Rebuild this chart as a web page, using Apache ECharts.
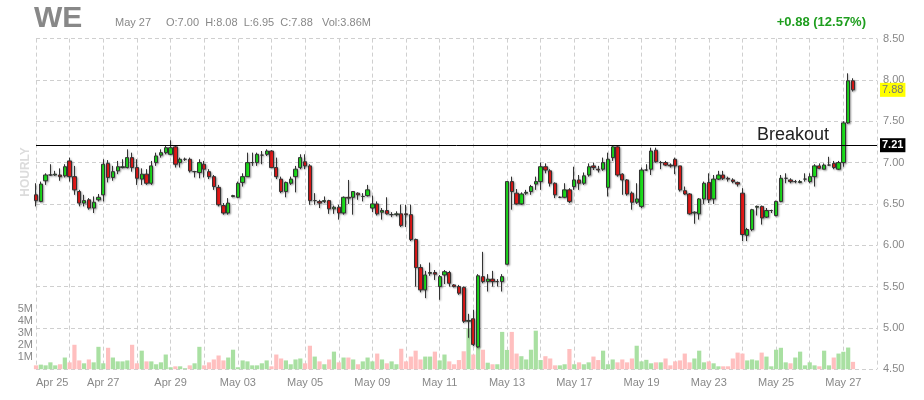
<!DOCTYPE html>
<html><head><meta charset="utf-8">
<script src="https://cdn.jsdelivr.net/npm/echarts@6/dist/echarts.min.js"></script>
<style>html,body{margin:0;padding:0;background:#fff;}#c{width:924px;height:400px;}</style>
</head><body><div id="c"></div>
<script>
const symbol = 'WE';
const intervalName = 'HOURLY';
const days = ['Apr 25','Apr 26','Apr 27','Apr 28','Apr 29','May 02','May 03','May 04','May 05','May 06','May 09','May 10','May 11','May 12','May 13','May 16','May 17','May 18','May 19','May 20','May 23','May 24','May 25','May 26','May 27'];
const hours = ['09:30','10:30','11:30','12:30','13:30','14:30','15:30'];
const opens = [
6.61,6.53,6.78,6.85,6.85,6.85,6.84,7.02,6.83,6.65,
6.51,6.55,6.45,6.55,6.61,6.99,6.82,6.90,6.94,6.94,
7.06,6.94,6.80,6.86,6.75,7.00,7.09,7.12,7.10,7.19,
7.00,7.04,7.04,6.89,6.88,6.98,6.89,6.83,6.70,6.48,
6.39,6.59,6.58,6.76,6.83,7.00,7.00,7.09,7.10,7.14,
6.94,6.80,6.65,6.75,6.83,6.94,7.01,6.96,6.54,6.53,
6.53,6.54,6.44,6.46,6.39,6.58,6.58,6.63,6.59,6.60,
6.45,6.50,6.40,6.42,6.37,6.37,6.38,6.38,6.37,6.07,
5.73,5.46,5.66,5.67,5.50,5.64,5.67,5.52,5.50,5.49,
5.08,5.11,4.77,5.62,5.56,5.59,5.56,5.56,5.77,6.77,
6.63,6.50,6.63,6.65,6.74,6.77,6.95,6.90,6.75,6.58,
6.58,6.67,6.71,6.79,6.75,6.85,6.96,6.92,6.92,6.70,
7.06,7.19,6.86,6.79,6.63,6.52,6.47,6.91,6.92,7.15,
7.00,7.00,6.97,7.04,6.96,6.66,6.62,6.39,6.38,6.56,
6.76,6.56,6.80,6.85,6.81,6.79,6.76,6.63,6.12,6.19,
6.46,6.47,6.34,6.42,6.36,6.53,6.81,6.79,6.77,6.76,
6.80,6.77,6.83,6.96,6.92,6.97,6.99,6.92,7.00,7.48,
7.99];
const closes = [
6.54,6.74,6.85,6.85,6.86,6.83,6.95,6.83,6.67,6.51,
6.54,6.45,6.52,6.58,6.98,6.82,6.89,6.95,6.95,7.06,
6.94,6.81,6.86,6.75,6.96,7.08,7.12,7.18,7.18,6.98,
7.04,7.04,6.90,6.89,7.00,6.92,6.83,6.71,6.49,6.39,
6.51,6.60,6.75,6.83,7.00,7.00,7.10,7.09,7.14,6.94,
6.83,6.65,6.76,6.80,6.92,7.06,6.96,6.54,6.54,6.51,
6.54,6.44,6.46,6.39,6.58,6.57,6.65,6.61,6.59,6.67,
6.50,6.38,6.42,6.38,6.37,6.38,6.24,6.37,6.07,5.73,
5.46,5.64,5.67,5.65,5.62,5.68,5.54,5.50,5.42,5.08,
5.09,4.80,5.63,5.56,5.59,5.56,5.56,5.62,6.77,6.65,
6.50,6.62,6.64,6.71,6.77,6.95,6.91,6.75,6.61,6.58,
6.67,6.53,6.79,6.75,6.84,6.95,6.94,6.91,7.00,7.04,
7.19,6.85,6.79,6.62,6.52,6.56,6.91,6.91,7.14,7.01,
7.00,6.97,6.96,6.96,6.67,6.62,6.38,6.40,6.56,6.75,
6.55,6.80,6.85,6.81,6.80,6.77,6.74,6.13,6.19,6.43,
6.47,6.33,6.42,6.42,6.53,6.81,6.81,6.77,6.77,6.77,
6.80,6.83,6.96,6.93,6.97,6.97,6.94,7.00,7.48,7.99,
7.88];
const lows = [
6.47,6.52,6.73,6.84,6.84,6.78,6.82,6.77,6.61,6.47,
6.47,6.43,6.39,6.53,6.53,6.76,6.78,6.86,6.93,6.93,
6.89,6.73,6.73,6.73,6.73,6.96,7.06,7.10,7.09,6.94,
6.94,7.02,6.88,6.82,6.81,6.82,6.80,6.67,6.47,6.37,
6.37,6.58,6.57,6.71,6.83,6.96,6.96,6.98,7.08,6.94,
6.80,6.63,6.58,6.73,6.64,6.92,6.92,6.49,6.49,6.45,
6.51,6.38,6.38,6.31,6.37,6.50,6.37,6.55,6.53,6.59,
6.40,6.36,6.31,6.37,6.34,6.35,6.22,6.22,6.05,5.50,
5.43,5.36,5.63,5.58,5.34,5.53,5.50,5.49,5.40,5.06,
4.88,4.78,4.76,5.54,5.44,5.50,5.50,5.44,5.77,6.43,
6.49,6.49,6.61,6.61,6.67,6.67,6.87,6.71,6.57,6.57,
6.57,6.51,6.67,6.67,6.73,6.83,6.91,6.88,6.90,6.59,
7.02,6.83,6.61,6.60,6.43,6.50,6.45,6.90,6.85,7.00,
6.92,6.96,6.94,6.86,6.65,6.61,6.37,6.26,6.31,6.50,
6.51,6.50,6.79,6.79,6.77,6.75,6.71,6.05,6.05,6.17,
6.36,6.25,6.33,6.39,6.35,6.52,6.75,6.75,6.75,6.75,
6.77,6.75,6.71,6.92,6.92,6.96,6.92,6.91,6.95,7.47,
7.86];
const highs = [
6.75,6.77,6.87,6.98,6.90,6.93,6.98,7.06,6.96,6.67,
6.61,6.57,6.59,6.62,7.04,7.03,6.96,7.02,7.04,7.16,
7.12,7.04,6.93,6.92,7.02,7.12,7.16,7.20,7.27,7.20,
7.06,7.06,7.06,6.90,7.04,7.02,6.92,6.85,6.73,6.51,
6.57,6.61,6.77,6.87,7.12,7.12,7.12,7.14,7.16,7.15,
7.06,6.83,6.77,6.83,6.96,7.10,7.10,6.98,6.63,6.55,
6.59,6.55,6.48,6.49,6.59,6.79,6.65,6.64,6.63,6.73,
6.60,6.53,6.45,6.58,6.40,6.41,6.49,6.49,6.49,6.08,
5.77,5.69,5.79,5.70,5.64,5.70,5.69,5.53,5.52,5.50,
5.17,5.22,5.65,5.92,5.65,5.69,5.59,5.65,6.77,6.83,
6.68,6.64,6.67,6.73,6.83,7.00,6.99,6.92,6.76,6.59,
6.75,6.69,6.95,6.85,6.88,6.99,7.00,6.96,7.06,7.12,
7.20,7.20,6.87,6.80,6.65,6.75,6.94,6.98,7.18,7.18,
7.02,7.02,6.99,7.06,6.96,6.71,6.63,6.41,6.57,6.77,
6.87,6.85,6.90,6.90,6.83,6.81,6.77,6.69,6.21,6.44,
6.48,6.48,6.45,6.43,6.54,6.85,6.87,6.81,6.79,6.79,
6.87,6.87,6.98,6.99,6.99,7.07,7.02,7.02,7.50,8.08,
8.02];
// volume in millions of shares
const volumes = [
0.32,0.38,0.32,0.57,0.32,0.41,0.97,0.57,2.03,0.73,
0.49,0.81,0.57,1.86,0.49,1.78,0.97,0.65,0.65,0.73,
2.03,0.49,1.54,0.65,0.65,0.41,0.57,1.22,0.16,0.24,
0.24,0.08,0.32,0.49,1.86,0.32,0.57,0.81,1.14,0.73,
0.97,1.62,0.16,0.73,0.65,0.32,0.32,0.49,0.73,0.24,
1.22,0.89,0.73,0.41,0.81,0.89,0.49,1.95,1.05,0.65,
0.41,0.81,1.46,0.57,0.97,0.97,0.81,0.41,0.65,0.97,
0.65,1.30,0.81,0.49,0.65,0.41,1.70,0.65,1.05,1.54,
0.81,1.05,1.05,1.46,0.73,1.22,0.65,0.41,0.76,1.49,
3.40,1.22,1.90,1.62,0.54,0.41,0.41,3.10,1.60,3.10,
1.30,1.08,0.81,1.62,3.20,0.76,1.08,0.89,0.32,0.32,
0.41,1.68,0.41,0.57,0.41,0.57,1.05,0.76,1.54,0.41,
0.81,0.57,0.81,0.57,0.89,1.95,0.65,0.78,0.49,0.57,
0.57,0.89,0.32,0.65,0.73,1.30,0.57,0.89,1.54,0.57,
0.65,0.49,0.24,0.24,0.24,0.89,1.38,1.30,0.73,0.81,
0.73,1.38,1.05,0.24,1.62,1.78,0.57,0.49,0.97,1.46,
0.32,0.57,0.32,0.24,1.54,0.32,0.97,1.30,1.45,1.80,
0.61];
const breakoutLevel = 7.21;
const breakoutText = 'Breakout';
const priceMin = 4.5, priceMax = 8.5, priceStep = 0.5;
const volAxisMax = 6;

const FONT = '"Liberation Sans", Arial, sans-serif';

// categories: one per hourly slot, plus one empty trailing slot
const categories = [];
days.forEach(d => hours.forEach(h => categories.push(d + ' ' + h)));
categories.push('');

const candleData = opens.map((o, i) => [o, closes[i], lows[i], highs[i]]);
const volData = volumes.map((v, i) => ({
  value: v,
  itemStyle: { color: closes[i] >= opens[i] ? '#a9e0a2' : '#ffbfbf' }
}));

// last session summary, derived from the data
const lastDay = days[days.length - 1];
const lastIdx = [];
for (let i = 0; i < opens.length; i++) if (categories[i].startsWith(lastDay)) lastIdx.push(i);
const dOpen = opens[lastIdx[0]];
const dHigh = Math.max(...lastIdx.map(i => highs[i]));
const dLow = Math.min(...lastIdx.map(i => lows[i]));
const dClose = closes[lastIdx[lastIdx.length - 1]];
const dVol = lastIdx.reduce((s, i) => s + volumes[i], 0);
const prevClose = closes[lastIdx[0] - 1];
const chg = dClose - prevClose;
const chgPct = chg / prevClose * 100;

const chart = echarts.init(document.getElementById('c'), null, { renderer: 'canvas' });

const dash = [4, 3];
const option = {
  animation: false,
  textStyle: { fontFamily: FONT },
  grid: [
    { left: 36, right: 47, top: 38.6, height: 330.6 },
    { left: 36, right: 47, top: 297, height: 72.2 }
  ],
  xAxis: [
    {
      type: 'category', gridIndex: 0, data: categories, boundaryGap: false,
      axisLine: { show: false }, axisTick: { show: false },
      axisLabel: {
        interval: (i) => i % 14 === 0,
        formatter: (v) => v.slice(0, 6),
        color: '#888', fontSize: 11, margin: 8, fontFamily: FONT,
        alignMinLabel: 'left'
      },
      splitLine: { show: true, interval: (i) => i % 7 === 0, lineStyle: { color: '#cfcfcf', type: dash, width: 1 } }
    },
    {
      type: 'category', gridIndex: 1, data: categories, boundaryGap: false,
      axisLine: { show: false }, axisTick: { show: false }, axisLabel: { show: false }, splitLine: { show: false }
    }
  ],
  yAxis: [
    {
      type: 'value', gridIndex: 0, position: 'right', min: priceMin, max: priceMax, interval: priceStep,
      axisLine: { show: false }, axisTick: { show: false },
      axisLabel: { color: '#888', fontSize: 11, margin: 6, fontFamily: FONT, formatter: (v) => v.toFixed(2) },
      splitLine: { show: true, lineStyle: { color: '#cfcfcf', type: dash, width: 1 } }
    },
    {
      type: 'value', gridIndex: 1, position: 'left', min: 0, max: volAxisMax, interval: 1,
      axisLine: { show: false }, axisTick: { show: false },
      axisLabel: { color: '#888', fontSize: 11, margin: 3, fontFamily: FONT, formatter: (v) => (v > 0 && v < volAxisMax) ? v + 'M' : '' },
      splitLine: { show: false }
    }
  ],
  series: [
    {
      type: 'bar', xAxisIndex: 1, yAxisIndex: 1, data: volData, barWidth: 4.2, silent: true
    },
    {
      type: 'candlestick', xAxisIndex: 0, yAxisIndex: 0, data: candleData, barWidth: 3.8,
      itemStyle: {
        color: '#1ee81e', color0: '#ee1a1a', borderColor: '#333', borderColor0: '#333', borderWidth: 1,
        shadowBlur: 2, shadowColor: 'rgba(0,0,0,0.35)', shadowOffsetX: 1, shadowOffsetY: 1
      },
      markLine: {
        symbol: 'none', silent: true, animation: false,
        data: [
          {
            yAxis: breakoutLevel,
            lineStyle: { color: '#000', width: 1, type: 'solid' },
            label: { show: true, position: 'end', distance: 3, formatter: breakoutLevel.toFixed(2),
              color: '#fff', backgroundColor: '#000', fontWeight: 'bold', fontSize: 11, padding: [2, 2, 1, 2], fontFamily: FONT }
          },
          {
            yAxis: dClose,
            lineStyle: { color: 'rgba(0,0,0,0)', width: 1, type: 'solid' },
            label: { show: true, position: 'end', distance: 3, formatter: dClose.toFixed(2),
              color: '#777', backgroundColor: '#ffff00', fontSize: 11, padding: [2, 2, 1, 2], fontFamily: FONT }
          }
        ]
      }
    }
  ]
};
chart.setOption(option);

const bp = chart.convertToPixel({ xAxisIndex: 0, yAxisIndex: 0 }, [165, breakoutLevel]);
chart.setOption({
  graphic: [
    { id: 'sym', type: 'text', left: 34, top: 4, style: { text: symbol, font: 'bold 30px ' + FONT, fill: '#888' } },
    { id: 'day', type: 'text', left: 115, top: 17, style: { text: lastDay, font: '11px ' + FONT, fill: '#888' } },
    { id: 'ohlc', type: 'text', left: 166, top: 17, style: {
        text: 'O:' + dOpen.toFixed(2) + '  H:' + dHigh.toFixed(2) + '  L:' + dLow.toFixed(2) + '  C:' + dClose.toFixed(2),
        font: '11px ' + FONT, fill: '#888' } },
    { id: 'vol', type: 'text', left: 322, top: 17, style: { text: 'Vol:' + dVol.toFixed(2) + 'M', font: '11px ' + FONT, fill: '#888' } },
    { id: 'chg', type: 'text', right: 58, top: 16, style: {
        text: (chg >= 0 ? '+' : '') + chg.toFixed(2) + ' (' + chgPct.toFixed(2) + '%)',
        font: 'bold 13px ' + FONT, fill: '#1f9e1f' } },
    { id: 'intv', type: 'text', x: 26, y: 172, rotation: Math.PI / 2, style: {
        text: intervalName, font: 'bold 12px ' + FONT, fill: '#dcdcdc', align: 'center', verticalAlign: 'middle' } },
    { id: 'brk', type: 'text', x: bp[0], y: bp[1] - 1, style: { text: breakoutText, font: '18px ' + FONT, fill: '#222', align: 'right', verticalAlign: 'bottom' } }
  ]
});
</script></body></html>
